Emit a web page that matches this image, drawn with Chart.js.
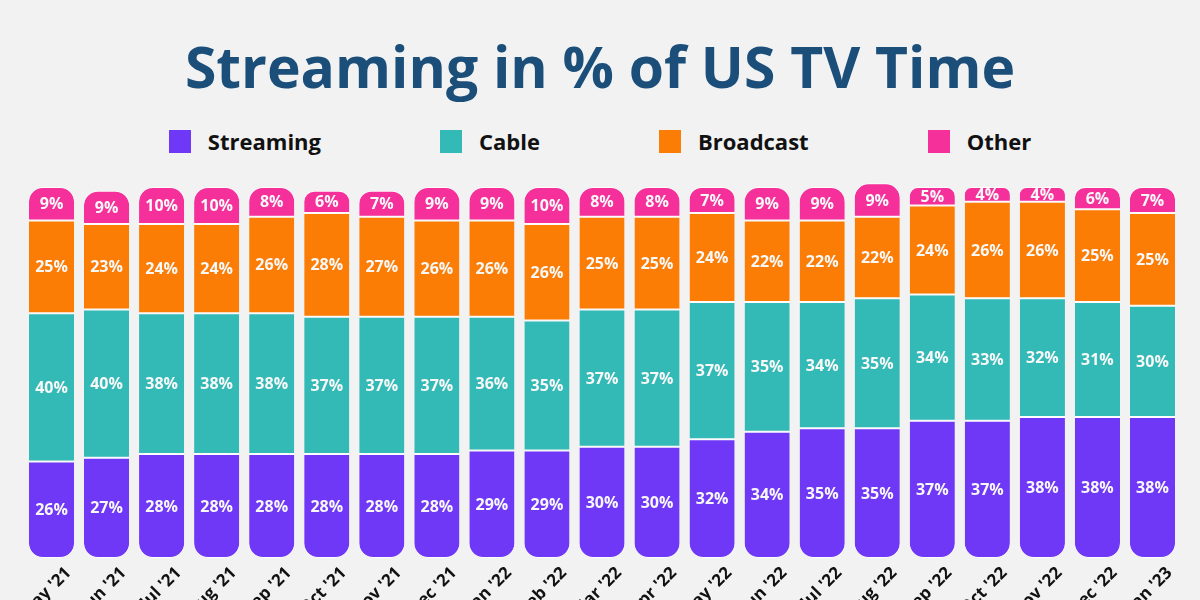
<!DOCTYPE html>
<html>
<head>
<meta charset="utf-8">
<script src="https://cdn.jsdelivr.net/npm/chart.js@4"></script>
<style>
  html, body { margin: 0; padding: 0; }
  body { width: 1200px; height: 600px; overflow: hidden; background: #f2f2f2; position: relative; font-family: "Open Sans", sans-serif; }
  #title { position: absolute; top: 26px; left: 0; width: 1200px; text-align: center; font-size: 57px; font-weight: 700; color: #1b4f7a; line-height: 80px; }
  #legend { position: absolute; top: 126px; left: 0; width: 1200px; display: flex; justify-content: center; gap: 119px; }
  .item { display: flex; align-items: center; font-size: 22px; font-weight: 700; color: #111; line-height: 30px; }
  .swatch { width: 22px; height: 23px; margin-right: 17px; }
  #wrap { position: absolute; left: 0; top: 170px; width: 1200px; height: 470px; }
</style>
</head>
<body>
<div id="title">Streaming in % of US TV Time</div>
<div id="legend"></div>
<div id="wrap"><canvas id="chart"></canvas></div>
<script>
const months = ["May '21", "Jun '21", "Jul '21", "Aug '21", "Sep '21", "Oct '21", "Nov '21", "Dec '21", "Jan '22", "Feb '22", "Mar '22",
  "Apr '22", "May '22", "Jun '22", "Jul '22", "Aug '22", "Sep '22", "Oct '22", "Nov '22", "Dec '22", "Jan '23"];
const streaming = [26, 27, 28, 28, 28, 28, 28, 28, 29, 29, 30, 30, 32, 34, 35, 35, 37, 37, 38, 38, 38];
const cable = [40, 40, 38, 38, 38, 37, 37, 37, 36, 35, 37, 37, 37, 35, 34, 35, 34, 33, 32, 31, 30];
const broadcast = [25, 23, 24, 24, 26, 28, 27, 26, 26, 26, 25, 25, 24, 22, 22, 22, 24, 26, 26, 25, 25];
const other = [9, 9, 10, 10, 8, 6, 7, 9, 9, 10, 8, 8, 7, 9, 9, 9, 5, 4, 4, 6, 7];

const seriesNames = ['Streaming', 'Cable', 'Broadcast', 'Other'];
const seriesColors = ['#6f38f7', '#33b9b6', '#fb7d05', '#f6309b'];

document.getElementById('legend').innerHTML = seriesNames
  .map((n, i) => `<div class="item"><span class="swatch" style="background:${seriesColors[i]}"></span>${n}</div>`)
  .join('');

const R = 15;
const dataset = (i, data, radius) => ({
  label: seriesNames[i],
  data,
  backgroundColor: seriesColors[i],
  borderColor: '#ffffff',
  borderWidth: { top: 1, bottom: 1, left: 0, right: 0 },
  borderSkipped: false,
  borderRadius: radius,
  barPercentage: 0.82,
  categoryPercentage: 1,
  clip: false,
});

// white % labels in the middle of each segment
const segmentLabels = {
  id: 'segmentLabels',
  afterDatasetsDraw(chart) {
    const ctx = chart.ctx;
    ctx.save();
    ctx.font = 'bold 16px "Open Sans"';
    ctx.fillStyle = '#f8f8f8';
    ctx.textAlign = 'center';
    ctx.textBaseline = 'middle';
    chart.data.datasets.forEach((ds, di) => {
      chart.getDatasetMeta(di).data.forEach((bar, i) => {
        const p = bar.getCenterPoint();
        ctx.fillText(ds.data[i] + '%', p.x, p.y + 1);
      });
    });
    ctx.restore();
  },
};

new Chart(document.getElementById('chart'), {
  type: 'bar',
  data: {
    labels: months,
    datasets: [
      dataset(0, streaming, { topLeft: 0, topRight: 0, bottomLeft: R, bottomRight: R }),
      dataset(1, cable, 0),
      dataset(2, broadcast, 0),
      dataset(3, other, { topLeft: R, topRight: R, bottomLeft: 0, bottomRight: 0 }),
    ],
  },
  options: {
    responsive: true,
    maintainAspectRatio: false,
    animation: false,
    layout: { padding: { top: 17, left: 24, right: 20, bottom: 0 } },
    plugins: { legend: { display: false }, tooltip: { enabled: false } },
    scales: {
      x: {
        stacked: true,
        grid: { display: false, drawTicks: false },
        border: { display: false },
        ticks: {
          autoSkip: false,
          minRotation: 45,
          maxRotation: 45,
          padding: 5,
          labelOffset: 17,
          color: '#111111',
          font: { family: 'Open Sans', size: 17, weight: 'bold' },
        },
        afterFit: (s) => { s.height = 82; },
      },
      y: { stacked: true, display: false, min: 0, max: 100 },
    },
  },
  plugins: [segmentLabels],
});
</script>
</body>
</html>
